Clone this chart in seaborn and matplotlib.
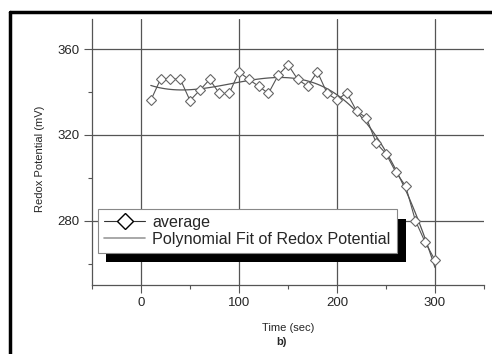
import matplotlib
matplotlib.use("Agg")
import matplotlib.pyplot as plt
import seaborn as sns
import numpy as np
import pandas as pd
from matplotlib.patches import Rectangle
from matplotlib.lines import Line2D
from matplotlib.ticker import MultipleLocator

time_sec = [10, 20, 30, 40, 50, 60, 70, 80, 90, 100, 110, 120, 130, 140, 150,
            160, 170, 180, 190, 200, 210, 220, 230, 240, 250, 260, 270, 280, 290, 300]
average = [336.1, 346.0, 346.0, 346.0, 336.0, 340.8, 345.8, 339.3, 339.3, 349.4,
           345.8, 342.7, 339.3, 347.8, 352.7, 345.8, 342.7, 349.4, 339.3, 336.3,
           339.6, 331.1, 327.9, 316.2, 311.2, 302.6, 296.2, 280.0, 269.9, 261.6]
fit_order = 3
x_ticks = [0, 100, 200, 300]
y_ticks = [280, 320, 360]

df = pd.DataFrame({"Time (sec)": time_sec, "Redox Potential (mV)": average})

sns.set_style("white")
plt.rcParams["font.family"] = ["Liberation Sans", "DejaVu Sans"]

W, H = 492, 354
fig = plt.figure(figsize=(W / 100, H / 100), dpi=100)
L, R, T, B = 92, 484, 19, 285
ax = fig.add_axes([L / W, 1 - B / H, (R - L) / W, (B - T) / H])

gcol = "#555555"
sns.regplot(data=df, x="Time (sec)", y="Redox Potential (mV)", order=fit_order, ci=None,
            scatter=False, ax=ax, truncate=True,
            line_kws=dict(color="#555555", lw=0.9, zorder=3))
sns.lineplot(data=df, x="Time (sec)", y="Redox Potential (mV)", ax=ax, color="#555555",
             lw=0.8, marker="D", markersize=5, markerfacecolor="white",
             markeredgecolor="#666666", markeredgewidth=0.8, zorder=4, legend=False)

ax.set_xlim(-50, 350)
ax.set_ylim(250, 374)
ax.set_xticks(x_ticks)
ax.set_yticks(y_ticks)
ax.xaxis.set_minor_locator(MultipleLocator(50))
ax.yaxis.set_minor_locator(MultipleLocator(20))
ax.grid(True, which="major", color=gcol, lw=0.9)
for s in ["top", "right"]:
    ax.spines[s].set_visible(False)
for s in ["left", "bottom"]:
    ax.spines[s].set_color(gcol)
    ax.spines[s].set_linewidth(0.9)
ax.tick_params(which="major", direction="out", length=6, width=0.8, color=gcol,
               labelsize=9.5, pad=3, left=True, bottom=True)
ax.tick_params(which="minor", direction="out", length=3, width=0.8, color=gcol,
               left=True, bottom=True)
ax.set_xlabel("Time (sec)", fontsize=8, labelpad=4)
ax.set_ylabel("Redox Potential (mV)", fontsize=8)
ax.yaxis.set_label_coords((45 - L) / (R - L), 1 - (159 - T) / (B - T))
ax.xaxis.set_label_coords(0.5, -(323 - B) / (B - T))

handles = [Line2D([], [], color="#333333", lw=0.8, marker="D", markersize=8,
                  markerfacecolor="white", markeredgecolor="black", markeredgewidth=1),
           Line2D([], [], color="#999999", lw=1.2)]
leg = ax.legend(handles, ["average", "Polynomial Fit of Redox Potential"],
                loc="lower left", bbox_to_anchor=((98 - L) / (R - L), (B - 253) / (B - T)),
                borderaxespad=0, fontsize=11.6, frameon=True, fancybox=False, framealpha=1,
                handlelength=2.5, handletextpad=0.45, borderpad=0.4, labelspacing=0.1)
leg.get_frame().set_edgecolor("#888888")
leg.get_frame().set_linewidth(0.8)
leg.get_frame().set_facecolor("white")
leg.set_zorder(6)

shadow = Rectangle((106 / W, 1 - 262 / H), 300 / W, 43 / H, transform=fig.transFigure,
                   facecolor="black", edgecolor="none", zorder=5, clip_on=False)
ax.add_patch(shadow)

fig.text(281 / W, 1 - 342 / H, "b)", fontsize=8, fontweight="bold", ha="center", va="center")

# outer frame
fig.add_artist(Line2D([10 / W, 1], [1 - 12 / H, 1 - 12 / H], color="black", lw=2.5,
                      transform=fig.transFigure))
fig.add_artist(Line2D([10 / W, 10 / W], [1 - 12 / H, 0], color="black", lw=2.5,
                      transform=fig.transFigure))

fig.savefig("out.png", dpi=100)
